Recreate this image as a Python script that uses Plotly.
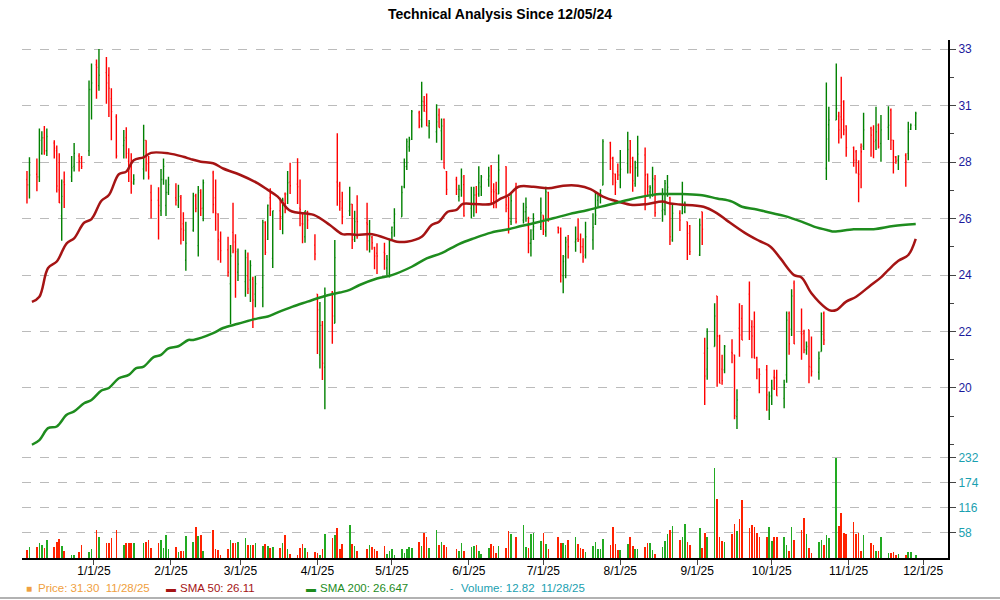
import pandas as pd
import plotly.graph_objects as go

opens = [28.0,27.79,28.2,28.1,29.0,29.6,29.1,29.4,29.1,27.6,26.6,27.9,28.1,28.5,28.9,28.8,29.1,31.45,32.4,31.6,32.1,32.0,31.1,30.4,29.3,29.6,28.7,28.5,27.85,28.4,29.5,28.6,27.5,27.2,26.8,28.0,27.0,27.5,27.3,27.0,27.3,
 26.3,24.9,26.05,27.37,25.46,27.5,26.9,28.25,27.3,26.67,25.64,25.3,24.0,25.97,25.6,24.44,24.08,24.3,24.14,24.17,23.6,23.85,26.35,25.7,27.3,24.97,26.8,26.57,27.44,27.44,27.9,27.82,26.9,26.3,25.8,26.77,25.48,23.6,21.27,22.4,20.8,23.67,22.48,
 27.9,27.82,26.9,26.8,27.05,25.7,26.5,26.34,25.65,25.78,25.38,25.17,25.2,24.6,24.4,25.95,26.34,26.57,27.72,28.5,29.25,29.54,30.56,30.3,30.98,30.6,30.05,29.83,30.47,29.87,30.3,28.3,28.0,27.34,27.6,27.8,26.9,27.04,27.4,27.44,27.72,28.0,28.5,27.6,27.6,
 27.44,28.49,26.89,26.38,27.72,26.44,26.76,26.19,25.55,26.06,26.19,26.63,25.99,27.5,26.16,26.12,24.3,25.04,25.68,25.6,25.74,25.7,25.42,25.1,25.68,26.29,27.2,27.34,27.78,29.41,28.81,28.2,28.3,28.17,28.62,29.48,28.81,27.85,28.45,28.94,28.2,27.53,27.4,28.0,26.8,
 26.82,27.6,27.3,25.68,26.7,26.7,26.76,26.38,26.22,25.1,26.76,21.33,20.72,21.59,23.53,21.99,20.72,20.7,21.36,21.27,18.9,22.29,22.67,23.6,22.35,22.35,21.17,20.72,20.7,19.16,19.7,20.41,20.4,19.6,20.5,22.86,22.25,24.02,22.1,22.1,21.46,22.23,20.8,20.6,21.4,22.86,
 28.43,30.1,30.28,30.43,30.4,30.98,30.05,29.22,29.06,28.23,29.23,29.28,29.96,29.9,29.51,30.08,29.38,30.0,30.66,29.51,28.85,28.74,28.93,29.0,29.92,30.08]
highs = [28.32,28.85,28.8,29.95,29.85,30.05,29.95,29.5,29.3,29.0,28.0,28.3,28.9,29.4,29.0,28.9,31.8,32.45,32.6,33.0,32.7,32.3,31.5,30.5,29.9,30.0,29.2,29.0,28.2,30.1,29.5,28.9,27.8,27.7,28.4,28.8,28.0,28.1,27.85,27.8,27.4,
 26.74,26.38,27.49,27.45,27.75,27.62,28.0,28.33,28.0,26.7,26.0,25.8,25.48,27.11,25.9,25.35,25.3,25.2,24.9,24.27,24.3,26.45,26.4,27.04,27.66,26.8,27.3,27.3,27.5,28.32,28.64,28.81,28.0,26.7,26.8,26.8,25.9,23.6,23.3,22.57,23.85,23.72,25.68,
 29.77,27.91,27.53,27.72,27.06,26.8,27.39,27.11,26.44,25.83,25.42,25.55,25.57,25.1,25.68,26.19,26.89,27.76,28.8,29.57,29.64,30.66,30.64,31.75,31.2,31.3,30.28,30.88,30.72,30.34,30.34,28.32,28.1,27.8,28.42,28.17,27.72,27.72,27.75,28.51,28.17,28.49,28.55,27.85,27.91,
 28.96,28.51,27.34,27.47,27.87,27.11,27.31,26.57,26.09,26.7,27.31,26.63,27.72,27.53,26.19,26.16,25.1,25.8,25.87,26.19,26.51,25.93,25.74,26.38,26.7,27.53,27.4,27.62,29.54,29.45,28.87,28.23,28.61,29.13,29.83,29.51,28.87,28.72,29.68,29.23,28.23,27.78,28.49,28.17,27.66,
 27.98,28.17,27.34,27.02,26.82,27.91,27.15,26.38,26.25,26.5,26.76,21.93,22.29,23.25,23.53,22.04,21.27,21.65,21.87,21.27,19.95,23.25,23.18,24.08,22.6,22.93,21.2,20.76,20.88,19.86,20.31,20.7,20.7,20.31,22.93,22.93,23.79,24.12,23.05,22.23,21.78,22.23,21.97,21.4,22.89,22.93,
 31.72,30.79,32.45,30.6,31.94,31.04,30.08,29.26,29.13,28.74,29.38,30.56,30.02,30.08,30.79,30.15,30.47,30.81,30.72,29.51,28.9,28.93,29.0,30.21,30.15,30.6]
lows = [27.08,27.27,27.55,27.9,28.95,28.95,28.9,28.8,27.5,27.1,25.65,26.9,27.9,28.3,28.3,28.4,28.9,30.3,31.1,31.4,30.9,30.4,29.5,28.8,28.8,28.8,27.9,27.45,27.8,28.0,28.3,28.0,26.5,25.7,26.6,27.8,26.6,27.4,27.0,26.9,25.5,
 25.64,24.5,25.99,26.74,25.04,26.6,26.4,26.7,26.03,24.9,24.8,24.27,22.44,25.17,23.46,24.1,23.5,23.6,23.3,22.3,23.1,23.1,25.1,25.68,26.6,24.6,26.06,25.9,26.7,27.06,27.44,27.06,26.2,25.55,25.57,26.1,24.9,21.3,20.75,20.3,19.18,21.7,22.48,
 26.99,26.8,26.28,26.6,25.33,25.6,25.72,25.27,25.2,25.3,24.55,24.37,24.53,24.33,24.24,25.65,25.8,26.57,27.66,28.36,29.06,29.51,29.96,29.99,30.6,30.05,29.57,29.41,29.99,28.74,28.42,27.4,27.4,27.15,27.34,26.57,26.5,26.57,26.7,27.34,27.36,27.72,27.02,26.89,26.89,
 27.44,26.74,25.93,26.25,26.31,26.31,26.38,25.17,25.04,25.68,26.06,25.87,25.8,26.38,25.93,24.05,23.63,24.21,24.97,25.23,25.6,25.17,24.8,24.97,25.3,26.25,26.95,27.08,27.78,28.36,27.78,27.4,27.98,27.66,28.23,28.23,27.53,27.72,28.1,26.82,27.34,27.27,27.34,26.57,26.38,
 26.63,27.34,25.48,25.61,26.02,26.66,26.7,24.91,25.1,25.06,25.48,19.35,20.31,21.59,20.05,20.18,20.12,20.56,20.95,18.8,18.42,21.2,21.84,21.84,21.14,21.14,20.33,19.8,19.12,18.77,19.35,19.92,19.7,19.22,20.2,21.27,21.99,21.69,21.08,21.33,21.27,20.18,20.44,20.31,21.4,21.65,
 27.98,28.68,30.28,29.38,29.57,29.7,28.87,28.49,28.23,27.12,27.66,29.13,28.87,28.81,29.13,29.19,28.68,29.51,29.13,28.23,28.6,28.36,27.72,28.74,29.9,29.9]
closes = [27.79,28.17,28.1,29.5,29.6,29.1,29.65,29.2,27.75,27.1,27.35,27.8,28.45,29.0,28.7,28.5,31.45,31.7,32.3,32.0,31.7,31.5,30.6,28.9,29.5,29.0,28.4,27.9,28.0,29.5,28.65,28.1,27.2,27.0,28.0,28.5,27.5,27.8,27.2,27.35,26.1,
 26.05,25.55,27.37,26.89,27.57,26.89,27.87,27.04,26.7,25.7,25.27,24.44,25.06,25.26,25.23,24.75,25.0,23.8,24.7,23.38,24.0,26.35,25.2,27.0,26.89,26.8,26.57,27.2,27.08,27.87,27.76,27.72,26.85,26.29,26.8,26.44,25.14,23.0,22.4,20.95,23.63,22.76,25.0,
 27.75,27.15,26.57,27.04,25.68,26.38,26.38,26.28,25.83,25.57,25.06,25.06,25.15,24.93,25.64,26.16,26.67,27.5,28.49,29.45,29.51,30.6,30.05,31.0,30.62,30.05,30.15,30.21,29.99,30.05,28.42,27.62,27.62,27.62,28.1,26.61,27.06,27.4,27.06,27.87,28.1,28.13,27.53,27.53,27.47,
 28.36,27.02,26.51,27.18,26.38,26.76,26.93,25.55,25.7,26.19,26.72,26.06,27.53,26.51,25.97,24.33,24.85,25.6,25.42,25.7,25.68,25.42,25.04,25.8,26.16,26.63,27.34,27.57,29.45,28.81,28.23,27.89,28.17,28.39,29.15,28.49,27.95,28.45,28.97,28.17,27.72,27.68,28.04,26.72,26.85,
 27.85,27.7,25.8,26.7,26.44,27.08,27.08,25.93,25.23,26.25,26.09,20.46,21.52,22.76,21.99,20.18,20.28,21.59,21.33,18.93,19.54,22.03,21.84,22.6,21.99,21.14,20.72,20.52,19.73,19.67,20.0,20.37,19.7,20.12,22.6,21.69,23.53,21.69,22.06,21.46,21.59,20.82,20.63,21.14,22.06,21.84,
 29.55,30.28,30.72,29.9,30.3,29.9,29.22,28.74,28.74,28.2,29.06,29.9,29.7,29.45,29.83,29.26,29.9,30.08,29.51,28.87,28.7,28.9,28.68,29.83,30.08,30.53]

vol_dec = [18,26,26,34,30,24,42,26,38,44,28,17,6,8,15,30,14,20]
vol_jan = [66,50,35,35,46,64,30,34,34,36,34,34,38,42,24,34,42,24,54,20]
vol_feb = [26,14,17,17,51,37,73,51,53,17,66,22,18,8,22,42,34,34,38]
vol_mar = [46,30,30,30,34,28,32,28,24,26,24,34,54,20,10,8,24,32,24,14,15]
vol_apr = [12,8,20,55,46,54,70,20,32,76,32,28,17,22,30,26,20,16,28,10,16]
vol_may = [20,6,22,12,22,26,24,37,28,58,50,24,64,30,38,30,26,20,16,34,16]
vol_jun = [26,28,30,17,10,24,32,28,12,28,24,62,55,48,76,25,24,56,58,40]
vol_jul = [58,32,22,48,34,34,30,42,50,32,24,20,14,28,38,20,22,44,30,72,32,18]
vol_aug = [18,32,50,28,22,20,26,34,34,18,10,26,40,55,64,75,42,50,80,38,30]
vol_sep = [70,24,58,50,208,136,50,40,38,56,78,62,90,134,70,76,72,58,50,50,72]
vol_oct = [40,50,48,50,30,16,72,42,64,92,56,24,12,38,42,30,54,46,232,74,104,58,56]
vol_nov = [84,56,58,16,54,36,30,16,16,48,12,12,14,8,10,6,14,14,8]
volumes = vol_dec+vol_jan+vol_feb+vol_mar+vol_apr+vol_may+vol_jun+vol_jul+vol_aug+vol_sep+vol_oct+vol_nov

sma50_days = [-25,-22,-18.5,-15,-11,-8,-4,-1,3,6,10,13,16,20,23,30,36,39,43,48,52,59,66,70,74,79,88.5,95,100,103,106,112,119,122,126,132,136,139,142.5,146,148.5,153,160,164,167,171,177,183,189,195,200,205,211,217,223,229,232,236,245.5,251,255,262,268,272.5,276.5,282,285,289,295,297,299,303,307,313,317,320,324,328,331]
sma50_vals = [23.3,23.5,24.6,24.85,25.55,25.74,26.34,26.48,27.18,27.4,28.2,28.3,28.74,28.85,29.02,29.0,28.87,28.78,28.68,28.62,28.42,28.17,27.85,27.6,27.34,26.8,26.64,26.25,25.9,25.9,25.87,25.9,25.7,25.61,25.61,25.8,26.25,26.38,26.76,26.83,27.06,27.06,27.06,27.27,27.4,27.72,27.72,27.66,27.76,27.76,27.63,27.34,27.15,27.02,27.06,27.15,27.08,27.04,26.95,26.7,26.42,25.96,25.64,25.42,24.97,24.33,24.24,23.63,23.05,22.96,22.99,23.31,23.5,23.95,24.24,24.53,24.88,25.1,25.72]
sma200_days = [-25,-22,-18.5,-15,-11,-8,-4,-1,3,6,10,14,17,20,24,27,30,34,38,40,48,52,58,66,70,74,80,86,93,99,103,107,114,120,128,134,140,147,153,160,167,172,177,185,191,199,207,215,221,228,232,236,244,251,257,261,267,272.5,278,285,290,296,298,306,314,322,331]
sma200_vals = [17.82,18.0,18.46,18.52,18.97,19.1,19.41,19.54,19.9,20.0,20.37,20.5,20.76,20.82,21.18,21.27,21.52,21.6,21.84,21.84,22.1,22.3,22.46,22.67,22.74,22.9,23.12,23.31,23.53,23.66,23.76,23.95,24.2,24.33,24.65,24.97,25.17,25.52,25.74,25.96,26.09,26.21,26.32,26.51,26.66,26.83,27.02,27.21,27.34,27.44,27.44,27.44,27.4,27.27,27.15,26.95,26.85,26.72,26.6,26.38,26.19,26.04,26.0,26.09,26.09,26.21,26.29]

price_tickvals = [33, 30.833, 28.667, 26.5, 24.333, 22.167, 20]
price_ticktext = ["33", "31", "28", "26", "24", "22", "20"]
vol_tickvals = [58, 116, 174, 232]
month_ticks = ["2025-01-01","2025-02-01","2025-03-01","2025-04-01","2025-05-01","2025-06-01",
               "2025-07-01","2025-08-01","2025-09-01","2025-10-01","2025-11-01","2025-12-01"]
holidays = ["2024-12-25","2025-01-01","2025-01-09","2025-01-20","2025-02-17","2025-04-18",
            "2025-05-26","2025-06-19","2025-07-04","2025-09-01","2025-11-27"]

days = pd.bdate_range("2024-12-05", "2025-11-28")
days = [d for d in days if d.strftime("%Y-%m-%d") not in holidays]
n = min(len(days), len(closes))
dates = days[:n]
base = pd.Timestamp("2025-01-01")
d50 = [base + pd.Timedelta(days=v) for v in sma50_days]
d200 = [base + pd.Timedelta(days=v) for v in sma200_days]

FONT = "Liberation Sans, Arial, sans-serif"
fig = go.Figure()
fig.add_trace(go.Ohlc(x=dates, open=opens[:n], high=highs[:n], low=lows[:n], close=closes[:n],
                      increasing=dict(line=dict(color="#008000", width=1.4)),
                      decreasing=dict(line=dict(color="#ff0000", width=1.4)),
                      tickwidth=0.35, yaxis="y", xaxis="x", showlegend=False, hoverinfo="skip"))
fig.add_trace(go.Scatter(x=d50, y=sma50_vals, mode="lines", line=dict(color="#a51414", width=2.5, shape="spline"),
                         yaxis="y", showlegend=False))
fig.add_trace(go.Scatter(x=d200, y=sma200_vals, mode="lines", line=dict(color="#1e8c1e", width=2.5, shape="spline"),
                         yaxis="y", showlegend=False))
vcol = ["#22aa22" if closes[i] >= opens[i] else "#ff2200" for i in range(n)]
fig.add_trace(go.Bar(x=dates, y=volumes[:n], marker=dict(color=vcol, line=dict(width=0)), width=0.25*86400000,
                     yaxis="y2", showlegend=False))

fig.update_layout(
    width=1000, height=600, paper_bgcolor="white", plot_bgcolor="white",
    margin=dict(l=22, r=52, t=40, b=42, autoexpand=False),
    font=dict(family=FONT, size=12, color="black"),
    title=dict(text="<b>Technical Analysis Since 12/05/24</b>", x=0.5, xanchor="center", y=0.985, yanchor="top",
               font=dict(size=14, family=FONT, color="black")),
    bargap=0,
    xaxis=dict(type="date", range=["2024-12-03", "2025-12-11"], anchor="y2", tickvals=month_ticks,
               tickformat="%-m/%-d/%y", ticks="outside", ticklen=5, showgrid=False, showline=True,
               linecolor="black", linewidth=2, rangeslider=dict(visible=False), tickfont=dict(size=12),
               ticklabelstandoff=-4, zeroline=False),
    yaxis=dict(domain=[0.199, 1], range=[17.43, 33.35], side="right", tickvals=price_tickvals, ticktext=price_ticktext,
               tickfont=dict(color="#1a1a9c", size=12), showgrid=True, gridcolor="#bbbbbb", griddash="dash",
               showline=True, linecolor="black", linewidth=2, ticks="outside", ticklen=6,
               minor=dict(ticks="outside", ticklen=4, dtick=1.0833, tick0=20), zeroline=False),
    yaxis2=dict(domain=[0, 0.199], range=[0, 239], side="right", tickvals=vol_tickvals,
                tickfont=dict(color="#1aa0b0", size=12), showgrid=True, gridcolor="#bbbbbb", griddash="dash",
                showline=True, linecolor="black", linewidth=2, ticks="outside", ticklen=6, zeroline=False),
)

def px(xp):
    return (xp - 22) / 926.0
ly = (558 - 588) / 518.0
legend = [(24, "■", "#f0a040"), (36, "Price: 31.30  11/28/25", "#f0a040"),
          (164, "▬", "#a51414"), (178, "SMA 50: 26.11", "#a51414"),
          (304, "▬", "#1e8c1e"), (318, "SMA 200: 26.647", "#1e8c1e"),
          (448, "-", "#1aa0b0"), (459, "Volume: 12.82  11/28/25", "#1aa0b0")]
for x0, t, c in legend:
    fig.add_annotation(x=px(x0), y=ly, xref="paper", yref="paper", text=t, showarrow=False,
                       xanchor="left", yanchor="middle",
                       font=dict(color=c, size=11.5 if len(t) > 1 else 10, family=FONT))
fig.add_shape(type="line", xref="paper", yref="paper", x0=-0.03, x1=1.06, y0=(558-598)/518.0, y1=(558-598)/518.0,
              line=dict(color="#999999", width=1.5))
fig.write_html("out.html", config={"displayModeBar": False},
               post_script="document.body.style.margin='0';document.body.style.padding='0';")
